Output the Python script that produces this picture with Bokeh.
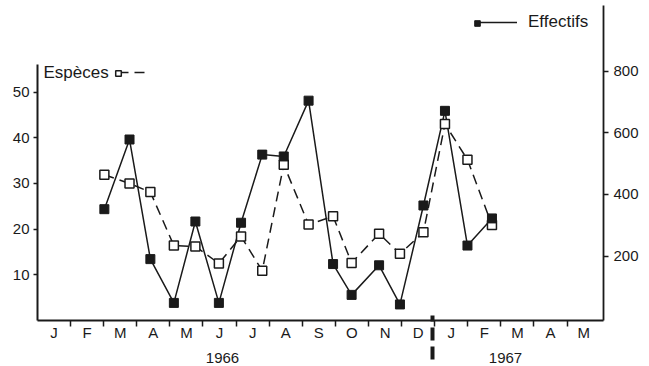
from bokeh.plotting import figure
from bokeh.models import (Range1d, LinearAxis, FixedTicker, Label,
                          Legend, LegendItem, CustomJSTickFormatter)
from bokeh.embed import file_html
from bokeh.resources import INLINE

# ---- data ----
months = ["J", "F", "M", "A", "M", "J", "J", "A", "S", "O", "N", "D",
          "J", "F", "M", "A", "M"]
years = ["1966", "1967"]
year_pos = [5.59, 14.14]
# sample dates expressed in months since 1 Jan 1966
sample_month = [2.02, 2.78, 3.41, 4.12, 4.77, 5.48, 6.15, 6.79, 7.44, 8.19,
                8.93, 9.49, 10.32, 10.95, 11.66, 12.31, 12.99, 13.73]
especes = [31.9, 30.0, 28.1, 16.4, 16.2, 12.5, 18.4, 10.9, 34.1, 21.0,
           22.8, 12.6, 19.0, 14.6, 19.3, 43.0, 35.2, 20.9]
effectifs = [352, 578, 190, 48, 312, 48, 308, 529, 523, 704,
             174, 74, 170, 43, 364, 671, 234, 322]
left_ticks = [10, 20, 30, 40, 50]
right_ticks = [200, 400, 600, 800]
year_break = 11.93

FONT = "Liberation Sans"
INK = "#1a1a1a"

p = figure(width=649, height=366, output_backend="svg", toolbar_location=None,
           x_range=Range1d(0, 17.1), y_range=Range1d(0, 68.93),
           min_border_left=37, min_border_right=46, min_border_top=5,
           min_border_bottom=46)
p.outline_line_color = None
p.xgrid.visible = False
p.ygrid.visible = False
p.extra_y_ranges = {"eff": Range1d(-9.1, 1012.7)}

# x axis (months)
xa = p.xaxis[0]
xa.ticker = FixedTicker(ticks=[i + 0.5 for i in range(len(months))],
                        minor_ticks=list(range(1, len(months))))
xa.formatter = CustomJSTickFormatter(args=dict(labels=months),
                                     code="return labels[Math.floor(tick)];")
xa.major_tick_out = 0
xa.major_tick_in = 0
xa.minor_tick_out = 6
xa.minor_tick_in = 0
xa.minor_tick_line_width = 1.5
xa.minor_tick_line_color = INK
xa.axis_line_width = 1.8
xa.axis_line_color = INK
xa.major_label_standoff = -3
xa.major_label_text_font = FONT
xa.major_label_text_font_size = "15px"
xa.major_label_text_color = INK

# second x axis (years + year separator)
xa2 = LinearAxis(ticker=FixedTicker(ticks=year_pos, minor_ticks=[year_break]))
xa2.formatter = CustomJSTickFormatter(args=dict(pos=year_pos, labels=years),
                                      code="return labels[pos.indexOf(tick)];")
xa2.axis_line_color = None
xa2.major_tick_out = 0
xa2.major_tick_in = 0
xa2.minor_tick_in = 28
xa2.minor_tick_out = 16
xa2.minor_tick_line_width = 4
xa2.minor_tick_line_color = INK
xa2.minor_tick_line_dash = "13 6"
xa2.major_label_standoff = -7
xa2.major_label_text_font = FONT
xa2.major_label_text_font_size = "15px"
xa2.major_label_text_color = INK
p.add_layout(xa2, "below")

# left axis
ya = p.yaxis[0]
ya.ticker = FixedTicker(ticks=left_ticks)
ya.bounds = (0, 56)
ya.major_tick_out = 4
ya.major_tick_in = 0
ya.minor_tick_out = 0
ya.minor_tick_in = 0
ya.axis_line_width = 2
ya.axis_line_color = INK
ya.major_tick_line_width = 1.5
ya.major_tick_line_color = INK
ya.major_label_standoff = 4
ya.major_label_text_font = FONT
ya.major_label_text_font_size = "15px"
ya.major_label_text_color = INK

# right axis
ra = LinearAxis(y_range_name="eff", ticker=FixedTicker(ticks=right_ticks))
ra.major_tick_out = 5
ra.major_tick_in = 0
ra.minor_tick_out = 0
ra.minor_tick_in = 0
ra.axis_line_width = 1.8
ra.axis_line_color = INK
ra.major_tick_line_width = 1.5
ra.major_tick_line_color = INK
ra.major_label_standoff = 5
ra.major_label_text_font = FONT
ra.major_label_text_font_size = "15px"
ra.major_label_text_color = INK
p.add_layout(ra, "right")

# series
esp_line = p.line(sample_month, especes, line_color=INK, line_width=1.5,
                  line_dash="10 6")
eff_line = p.line(sample_month, effectifs, y_range_name="eff",
                  line_color=INK, line_width=1.5)
esp_pts = p.scatter(sample_month, especes, marker="square", size=9,
                    fill_color="white", line_color=INK, line_width=1.5)
eff_pts = p.scatter(sample_month, effectifs, y_range_name="eff",
                    marker="square", size=9, fill_color=INK, line_color=INK)

# legends
def mk_legend(label, rend, loc, gw, gh=16, standoff=5):
    lg = Legend(items=[LegendItem(label=label, renderers=[rend])],
                location=loc, glyph_width=gw, glyph_height=gh,
                label_height=16, label_standoff=standoff, padding=0,
                margin=0, spacing=0, border_line_color=None,
                background_fill_alpha=0, label_text_font=FONT,
                label_text_font_size="17px", label_text_color=INK)
    p.add_layout(lg, "center")

mk_legend("Effectifs", eff_line, (440, 288), 40, standoff=11)
mk_legend(" ", eff_pts, (433, 289), 14, gh=14)
mk_legend(" ", esp_line, (81, 240), 27)
mk_legend(" ", esp_pts, (74, 239), 14, gh=14)

p.add_layout(Label(x=0.18, y=54.3, text="Espèces", text_align="left",
                   text_baseline="middle", text_font=FONT,
                   text_font_size="17px", text_color=INK))

open("out.html", "w").write(file_html(p, INLINE))
